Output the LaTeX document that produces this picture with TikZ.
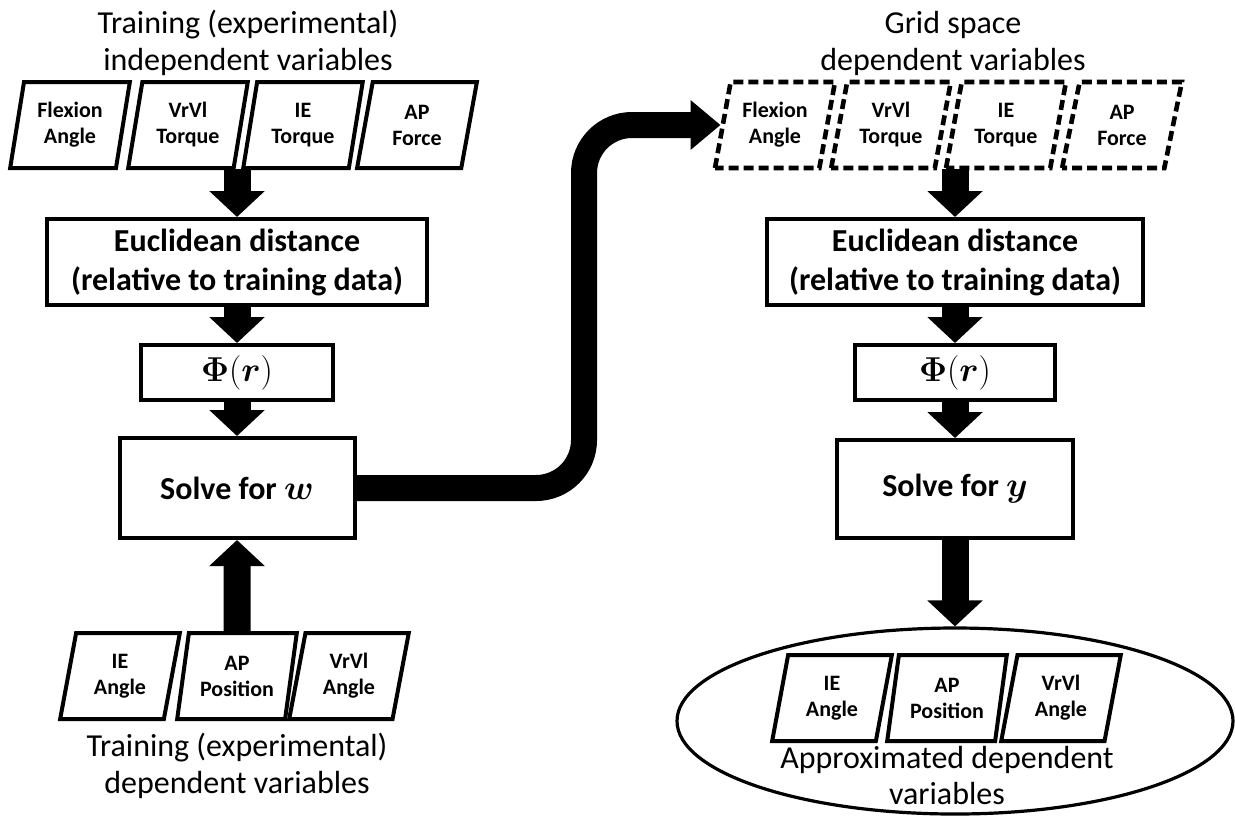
\documentclass[tikz,border=0pt]{standalone}
\usepackage{fontspec}
\setmainfont{Carlito}
\usepackage{bm}
\usetikzlibrary{shapes.geometric,arrows.meta}
\begin{document}
\begin{tikzpicture}[x=0.5pt,y=-0.5pt,
  para/.style={trapezium, trapezium left angle=78, trapezium right angle=102,
    trapezium stretches=true, draw, line width=2pt, minimum width=60pt,
    minimum height=43pt, align=center, inner sep=1pt,
    font=\bfseries\fontsize{11}{13}\selectfont},
  dpara/.style={para, trapezium left angle=76, trapezium right angle=104,
    line width=2.3pt, dash pattern=on 5pt off 2.5pt},
  box/.style={draw, line width=2pt, align=center, inner sep=0pt,
    font=\bfseries\fontsize{16}{19.5}\selectfont},
  title/.style={align=center, font=\fontsize{16}{18.5}\selectfont},
  blk/.style={line width=13.5pt, -{Triangle[width=27pt,length=13pt]}},
]
\useasboundingbox (0,0) rectangle (1235,816);

% left titles
\node[title] (tiL) at (248,43) {Training (experimental)\\independent variables};
\node[title] (biL) at (237,766) {Training (experimental)\\dependent variables};
% right titles
\node[title] (tiR) at (953,43) {Grid space\\dependent variables};

% top left row
\node[para] (lF) at (70,125) {Flexion\\Angle};
\node[para] (lV) at (188,125) {VrVl\\Torque};
\node[para] (lI) at (303,125) {IE\\Torque};
\node[para] (lA) at (417,125) {AP\\Force};

% left column
\node[box, minimum width=190pt, minimum height=43pt] (eL) at (237,262)
  {Euclidean distance\\(relative to training data)};
\node[box, minimum width=96pt, minimum height=27.5pt] (pL) at (237,372.5)
  {$\bm{\Phi}(\bm{r})$};
\node[box, minimum width=117.5pt, minimum height=50pt] (sL) at (237,488)
  {Solve for $\bm{w}$};

% bottom left row
\node[para] (bI) at (120,676) {IE\\Angle};
\node[para] (bA) at (237,676) {AP\\Position};
\node[para] (bV) at (349,676) {VrVl\\Angle};

% top right row (dashed)
\node[dpara] (gF) at (775,125) {Flexion\\Angle};
\node[dpara] (gV) at (891,125) {VrVl\\Torque};
\node[dpara] (gI) at (1006,125) {IE\\Torque};
\node[dpara] (gA) at (1122,125) {AP\\Force};

% right column
\node[box, minimum width=188pt, minimum height=43pt] (eR) at (955,262)
  {Euclidean distance\\(relative to training data)};
\node[box, minimum width=100pt, minimum height=27.5pt] (pR) at (955,372.5)
  {$\bm{\Phi}(\bm{r})$};
\node[box, minimum width=118pt, minimum height=49pt] (sR) at (955,489)
  {Solve for $\bm{y}$};

% ellipse
\node[ellipse, draw, line width=1.6pt, minimum width=278pt, minimum height=93pt] (ell) at (955,721) {};
\node[para] (rI) at (832,698) {IE\\Angle};
\node[para] (rA) at (947,698) {AP\\Position};
\node[para] (rV) at (1061,698) {VrVl\\Angle};
\node[align=center, font=\fontsize{16}{18}\selectfont] (apx) at (947,775) {Approximated dependent\\variables};

% connectors
\coordinate (tL) at (237,169);
\coordinate (tR) at (955,169);
\draw[blk] (tL) -- (eL.north);
\draw[blk] (eL.south) -- (pL.north);
\draw[blk] (pL.south) -- (sL.north);
\draw[blk] (bA.north) -- (sL.south);
\draw[blk] (tR) -- (eR.north);
\draw[blk] (eR.south) -- (pR.north);
\draw[blk] (pR.south) -- (sR.north);
\draw[blk] (sR.south) -- (ell.north);
\draw[line width=13pt, -{Triangle[width=24pt,length=15pt]}]
  (sL.east) [rounded corners=24pt] -- (584,488) -- (584,125)
  [rounded corners=15pt] -- (gF.west);
\end{tikzpicture}
\end{document}
